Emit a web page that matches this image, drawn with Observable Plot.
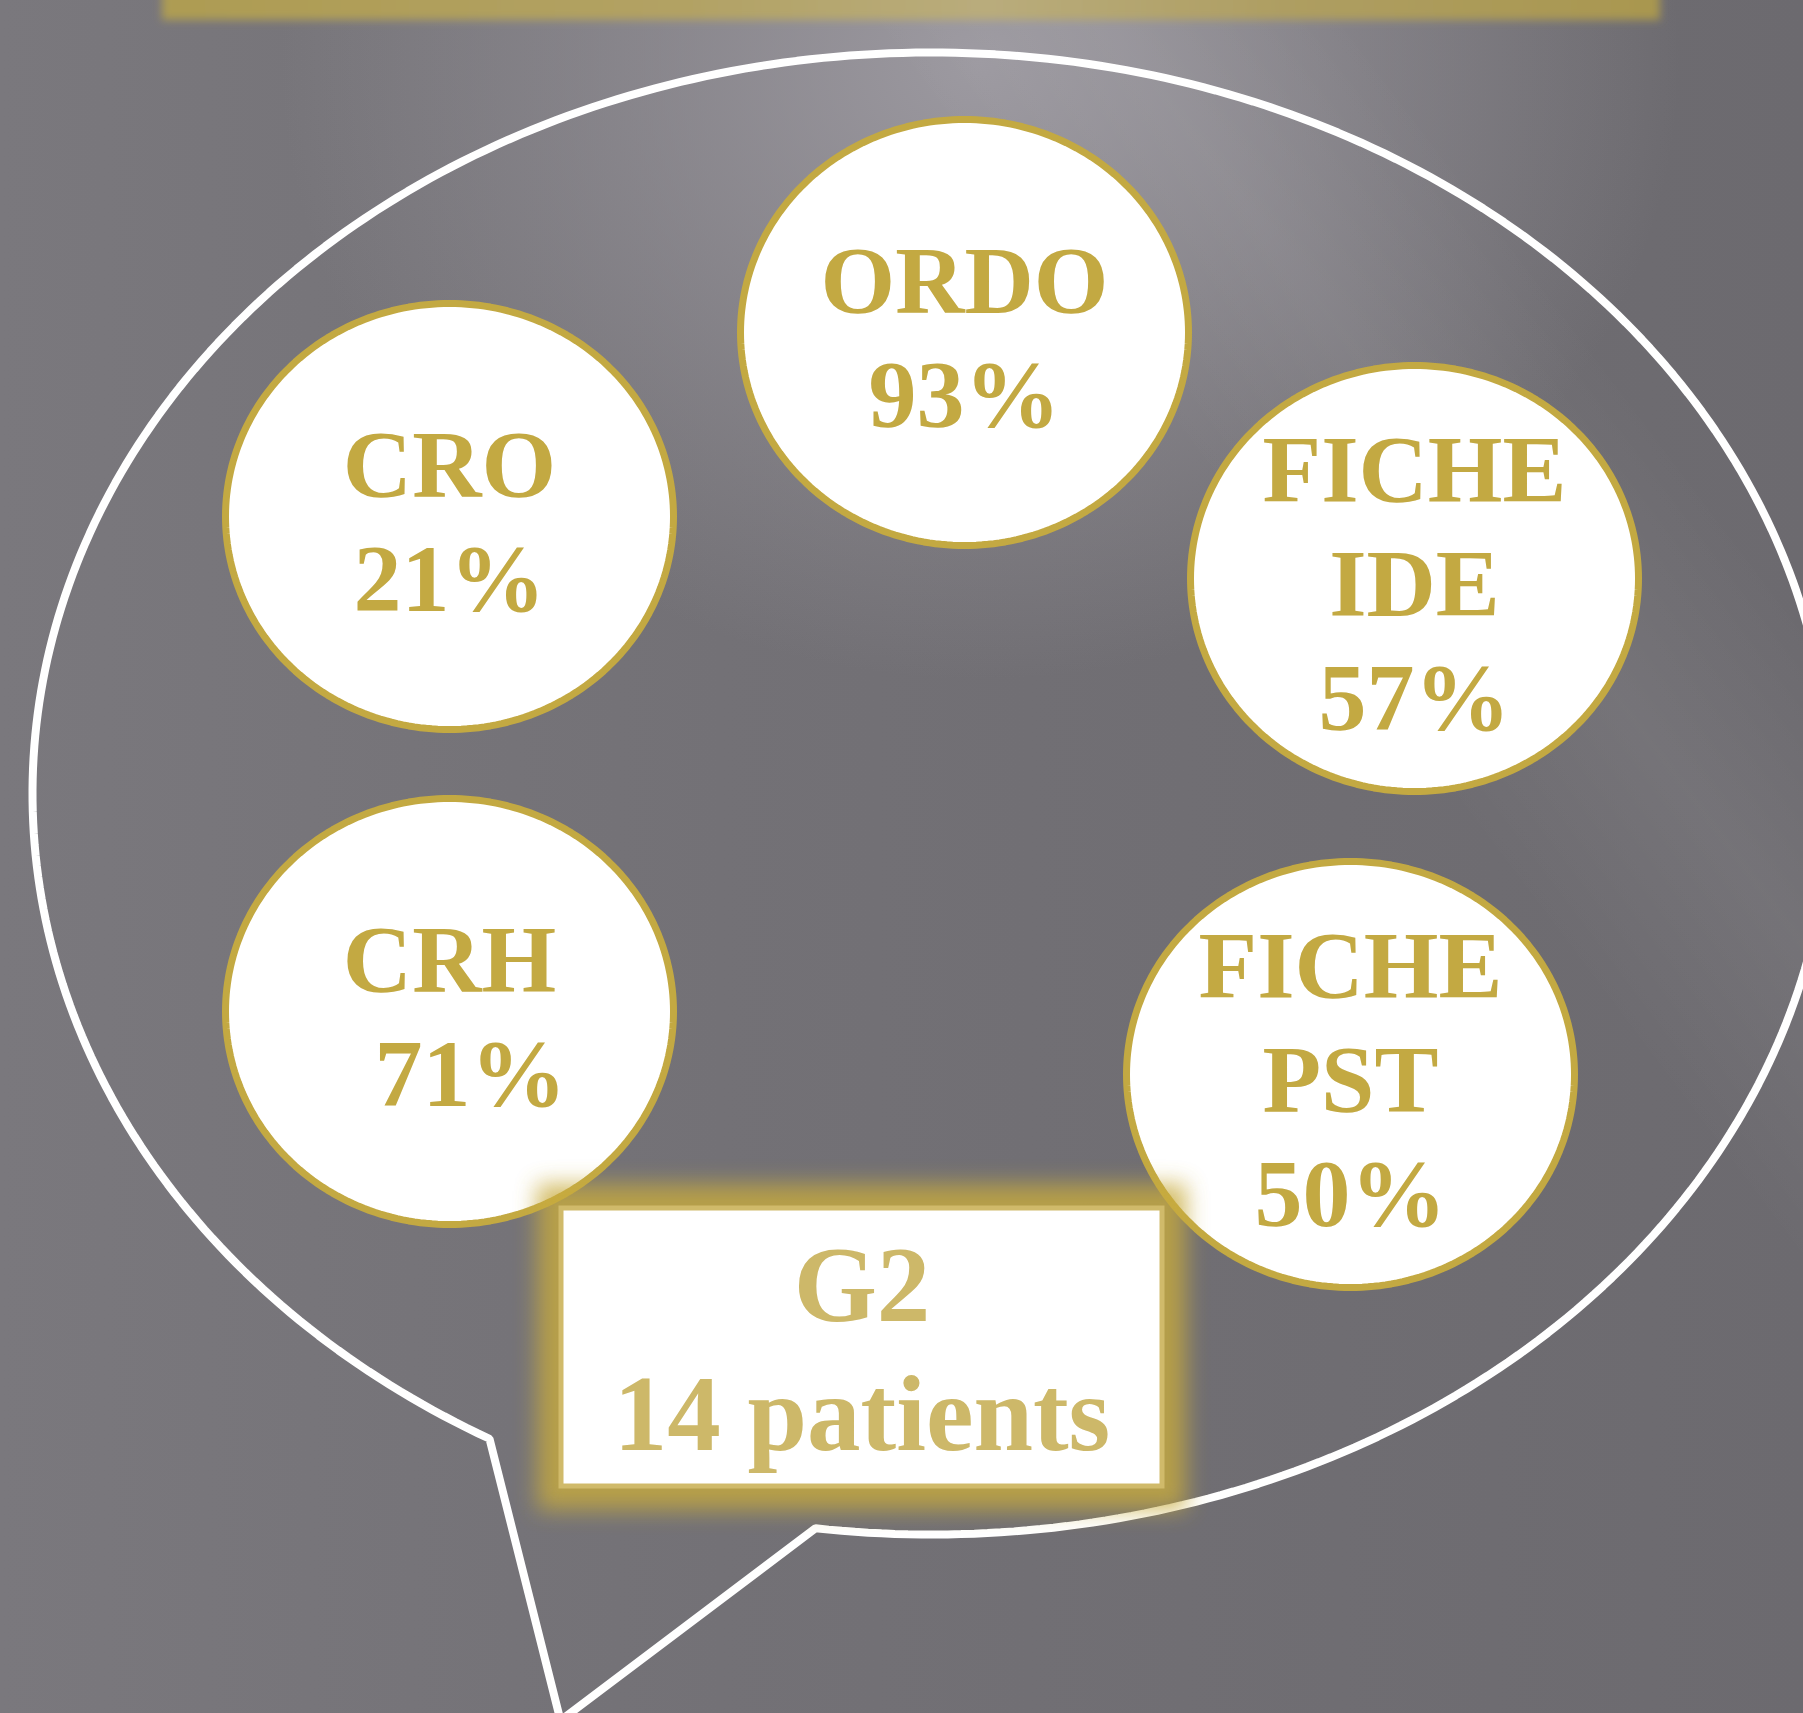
<!DOCTYPE html>
<html>
<head>
<meta charset="utf-8">
<script src="https://cdn.jsdelivr.net/npm/d3@7"></script>
<script src="https://cdn.jsdelivr.net/npm/@observablehq/plot@0.6"></script>
<style>
  html, body { margin: 0; padding: 0; overflow: hidden; }
  body {
    width: 1803px; height: 1713px;
    background:
      linear-gradient(53deg, rgba(255,255,255,0) 69%, rgba(255,255,255,0.06) 77%, rgba(255,255,255,0) 85%),
      radial-gradient(ellipse 700px 620px at 980px 60px, rgba(156,153,160,1) 0%, rgba(156,153,160,0) 100%),
      linear-gradient(90deg, #7a787d 0%, #737176 40%, #6c6a6f 100%);
  }
</style>
</head>
<body>
<div id="chart"></div>
<script>
// ---------- data ----------
const categories = ["ORDO", "CRO", "FICHE\nIDE", "CRH", "FICHE\nPST"];
const percentages = [93, 21, 57, 71, 50];
const groupLabel = "G2";
const patientCount = 14;
const patientWord = "patients";

// ---------- layout (positions / styles) ----------
const W = 1803, H = 1713;
const centerX = [964, 449, 1414, 449, 1350];
const centerY = [332, 516, 578, 1011, 1074];
const valueShift = [0, 0, 0, 21, 0];
const discRx = 224, discRy = 213;
const FS = 96, LH = 114, BASE_OFF = 37;
const GOLD = "#C3A942";
const BOX_GOLD = "#D0BA6A";
const BOX_TEXT = "#CDB869";
const FONT = "Liberation Serif, 'Times New Roman', serif";
const bubble = {cx: 931, cy: 793, rx: 899, ry: 741, tailL: 489, tailR: 815, tipX: 560, tipY: 1720};
const box = {x1: 561, x2: 1162, y1: 1208, y2: 1486};

function ellipsePts(cx, cy, rx, ry, id, n = 240) {
  return d3.range(n).map(i => {
    const t = 2 * Math.PI * i / n;
    return {id, x: cx + rx * Math.cos(t), y: cy + ry * Math.sin(t)};
  });
}

// speech bubble outline (ellipse with a tail)
const tL = Math.acos((bubble.tailL - bubble.cx) / bubble.rx);
const tR = Math.acos((bubble.tailR - bubble.cx) / bubble.rx) + 2 * Math.PI;
const bubblePts = d3.range(0, 401).map(i => {
  const t = tL + (tR - tL) * i / 400;
  return {x: bubble.cx + bubble.rx * Math.cos(t), y: bubble.cy + bubble.ry * Math.sin(t)};
});
bubblePts.push({x: bubble.tipX, y: bubble.tipY});

// discs
const discPts = categories.flatMap((c, i) => ellipsePts(centerX[i], centerY[i], discRx, discRy, c));

// text rows
const textRows = [];
categories.forEach((c, i) => {
  const lines = [...c.split("\n"), `${percentages[i]}%`];
  const n = lines.length;
  lines.forEach((s, k) => textRows.push({
    text: s,
    x: centerX[i] + (k === n - 1 ? valueShift[i] : 0),
    y: centerY[i] + BASE_OFF + (k - (n - 1) / 2) * LH
  }));
});
const boxCx = (box.x1 + box.x2) / 2;
const boxRows = [
  {text: groupLabel, x: boxCx, y: 1320},
  {text: `${patientCount} ${patientWord}`, x: boxCx, y: 1449}
];

const chart = Plot.plot({
  width: W, height: H,
  margin: 0,
  x: {domain: [0, W], range: [0, W], axis: null},
  y: {domain: [0, H], range: [0, H], axis: null},
  style: {background: "transparent", overflow: "hidden"},
  marks: [
    // 0: top gold bar
    Plot.rect([{}], {x1: 162, x2: 1660, y1: -40, y2: 20, fill: "url(#topGrad)"}),
    // 1: speech bubble
    Plot.line(bubblePts, {x: "x", y: "y", curve: "linear-closed", stroke: "white", strokeWidth: 8, fill: "none", strokeLinejoin: "miter"}),
    // 2: discs
    Plot.line(discPts, {x: "x", y: "y", z: "id", curve: "linear-closed", fill: "white", stroke: GOLD, strokeWidth: 7}),
    // 3: labels
    Plot.text(textRows, {x: "x", y: "y", text: "text", fontSize: FS, fontWeight: "bold", fontFamily: FONT, fill: GOLD, lineAnchor: "bottom"}),
    // 4: glow
    Plot.rect([{}], {x1: box.x1 - 24, x2: box.x2 + 24, y1: box.y1 - 24, y2: box.y2 + 24, fill: "#C8AB3E", fillOpacity: 1}),
    // 5: box
    Plot.rect([{}], {x1: box.x1, x2: box.x2, y1: box.y1, y2: box.y2, fill: "white", stroke: BOX_GOLD, strokeWidth: 5}),
    // 6: box text
    Plot.text(boxRows, {x: "x", y: "y", text: "text", fontSize: 107, fontWeight: "bold", fontFamily: FONT, fill: BOX_TEXT, lineAnchor: "bottom"})
  ]
});

const NS = "http://www.w3.org/2000/svg";
const defs = document.createElementNS(NS, "defs");
function mk(tag, attrs, parent) {
  const e = document.createElementNS(NS, tag);
  for (const k in attrs) e.setAttribute(k, attrs[k]);
  parent.appendChild(e);
  return e;
}
const fGlow = mk("filter", {id: "glowF", x: "-30%", y: "-30%", width: "160%", height: "160%"}, defs);
mk("feGaussianBlur", {stdDeviation: "11"}, fGlow);
const fSoft = mk("filter", {id: "softF", x: "-10%", y: "-100%", width: "120%", height: "300%"}, defs);
mk("feGaussianBlur", {stdDeviation: "4"}, fSoft);
const grad = mk("linearGradient", {id: "topGrad", x1: "0", x2: "1", y1: "0", y2: "0"}, defs);
[["0", "#AE9C52"], ["0.35", "#B2A264"], ["0.55", "#B9AC7C"], ["0.75", "#AE9E62"], ["1", "#A9974F"]].forEach(([o, c]) =>
  mk("stop", {offset: o, "stop-color": c}, grad));
chart.insertBefore(defs, chart.firstChild);

const groups = Array.from(chart.children).filter(n => n.tagName.toLowerCase() === "g");
groups[0].setAttribute("filter", "url(#softF)");
groups[4].setAttribute("filter", "url(#glowF)");
groups[4].setAttribute("opacity", "0.8");

document.getElementById("chart").appendChild(chart);
</script>
</body>
</html>
